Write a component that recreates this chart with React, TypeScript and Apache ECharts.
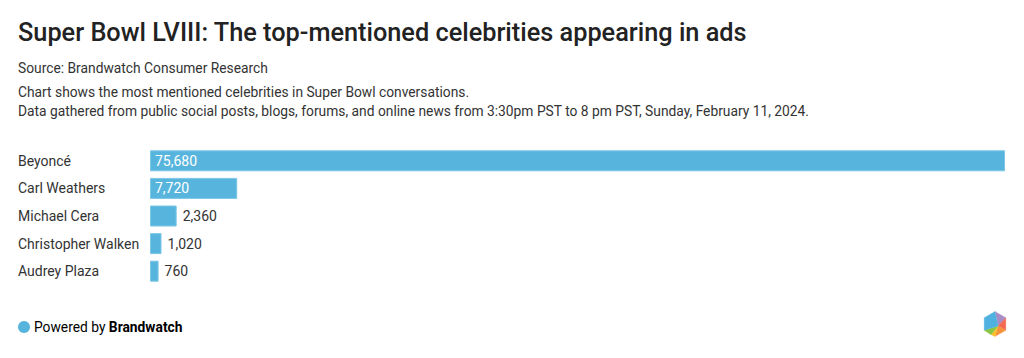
import React, { useEffect, useRef } from "react";
import * as echarts from "echarts";

const titleText = "Super Bowl LVIII: The top-mentioned celebrities appearing in ads";
const sourceText = "Source: Brandwatch Consumer Research";
const descLines = [
  "Chart shows the most mentioned celebrities in Super Bowl conversations.",
  "Data gathered from public social posts, blogs, forums, and online news from 3:30pm PST to 8 pm PST, Sunday, February 11, 2024.",
];
const categories = ["Beyoncé", "Carl Weathers", "Michael Cera", "Christopher Walken", "Audrey Plaza"];
const mentions = [75680, 7720, 2360, 1020, 760];
const insideLabel = [true, true, false, false, false];

const FONT = "Roboto, 'Noto Sans', sans-serif";
const BAR = "#57b5dd";

export default function App() {
  const ref = useRef<HTMLDivElement>(null);
  useEffect(() => {
    if (!ref.current) return;
    const chart = echarts.init(ref.current, null, { renderer: "svg" });
    const cx = 995, cy = 324, r = 12.5;
    const v = [-90, -30, 30, 90, 150, 210].map((a) => [
      cx + r * Math.cos((a * Math.PI) / 180),
      cy + r * Math.sin((a * Math.PI) / 180),
    ]);
    const c = [cx + 3, cy + 2];
    const tri = [
      { pts: [c, v[0], v[1]], col: "#a88cc6" },
      { pts: [c, v[1], v[2]], col: "#f26a52" },
      { pts: [c, v[2], v[3]], col: "#f7923b" },
      { pts: [c, v[3], [cx - 4, cy + r * 0.85]], col: "#fbbf2c" },
      { pts: [c, [cx - 4, cy + r * 0.85], v[4]], col: "#8bc541" },
      { pts: [c, v[4], v[5], v[0]], col: "#4fb1e0" },
    ];
    chart.setOption({
      animation: false,
      textStyle: { fontFamily: FONT },
      title: [
        {
          text: titleText,
          left: 18,
          top: 20,
          padding: 0,
          textStyle: { fontFamily: FONT, fontSize: 25.3, fontWeight: 500, color: "#222222" },
        },
        {
          text: sourceText,
          left: 18,
          top: 61,
          padding: 0,
          textStyle: { fontFamily: FONT, fontSize: 13.8, fontWeight: 400, color: "#333333" },
        },
        {
          text: descLines.join("\n"),
          left: 18,
          top: 82,
          padding: 0,
          textStyle: { fontFamily: FONT, fontSize: 13.8, fontWeight: 400, color: "#333333", lineHeight: 19.5 },
        },
      ],
      grid: { left: 150, right: 19, top: 147, height: 138, containLabel: false },
      xAxis: {
        type: "value",
        min: 0,
        max: 75680,
        show: false,
      },
      yAxis: {
        type: "category",
        data: categories,
        inverse: true,
        axisLine: { show: false },
        axisTick: { show: false },
        axisLabel: {
          align: "left",
          margin: 132,
          fontFamily: FONT,
          fontSize: 14,
          color: "#333333",
        },
      },
      series: [
        {
          type: "bar",
          barWidth: 21,
          data: mentions.map((m, i) => ({
            value: m,
            label: insideLabel[i]
              ? { position: "insideLeft", color: "#ffffff", distance: 5 }
              : { position: "right", color: "#333333", distance: 6 },
          })),
          itemStyle: { color: BAR, borderColor: "#7cc6e6", borderWidth: 1 },
          label: {
            show: true,
            fontFamily: FONT,
            fontSize: 14,
            formatter: (p: any) => p.value.toLocaleString("en-US"),
          },
        },
      ],
      graphic: [
        { type: "circle", shape: { cx: 24, cy: 327, r: 6 }, style: { fill: BAR } },
        {
          type: "text",
          x: 34,
          y: 327,
          style: {
            text: "{n|Powered by }{b|Brandwatch}",
            verticalAlign: "middle",
            rich: {
              n: { fontFamily: FONT, fontSize: 13.8, color: "#222222" },
              b: { fontFamily: FONT, fontSize: 13.8, fontWeight: "bold", color: "#222222" },
            },
          },
        },
        ...tri.map((t) => ({
          type: "polygon",
          shape: { points: t.pts },
          style: { fill: t.col, stroke: t.col, lineWidth: 0.3 },
        })),
      ],
    });
    return () => chart.dispose();
  }, []);
  return <div ref={ref} style={{ width: 1024, height: 358, position: "absolute", left: 0, top: 0 }} />;
}
